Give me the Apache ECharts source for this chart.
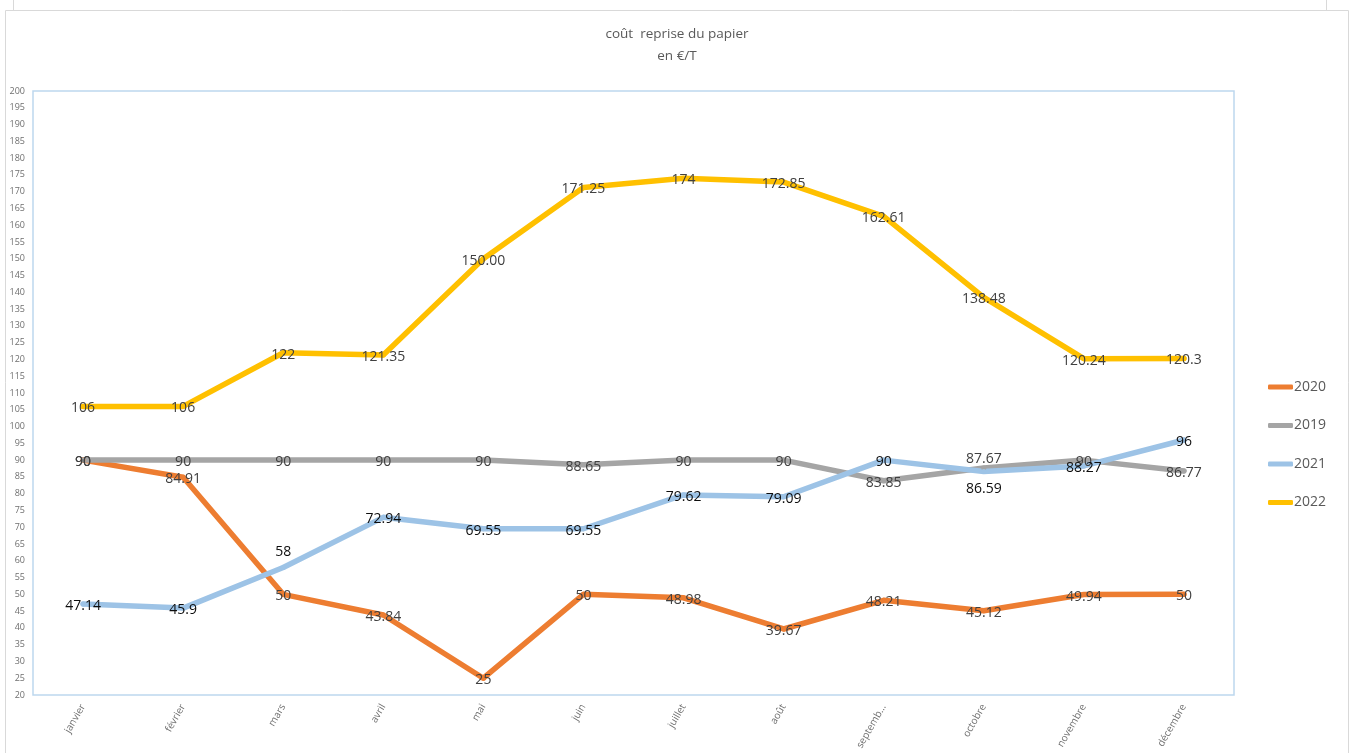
<!DOCTYPE html>
<html>
<head>
<meta charset="utf-8">
<script src="https://cdn.jsdelivr.net/npm/echarts@6/dist/echarts.min.js"></script>
<style>
html,body{margin:0;padding:0;background:#fff;}
#chart{width:1354px;height:753px;}
</style>
</head>
<body>
<div id="chart"></div>
<script>
// mois
const months = ['janvier','février','mars','avril','mai','juin','juillet','août','septemb...','octobre','novembre','décembre'];

// coût par année (€/T)
const v2020 = [90, 84.91, 50, 43.84, 25, 50, 48.98, 39.67, 48.21, 45.12, 49.94, 50];
const v2019 = [90, 90, 90, 90, 90, 88.65, 90, 90, 83.85, 87.67, 90, 86.77];
const v2021 = [47.14, 45.9, 58, 72.94, 69.55, 69.55, 79.62, 79.09, 90, 86.59, 88.27, 96];
const v2022 = [106, 106, 122, 121.35, 150, 171.25, 174, 172.85, 162.61, 138.48, 120.24, 120.3];

const yMin = 20, yMax = 200, yStep = 5;

const chart = echarts.init(document.getElementById('chart'));

// petits decalages d'etiquettes comme dans excel
const labelShift = {
    '2021': {2: -15, 9: 17},
    '2019': {9: -9}
};

function makeSeries(name, values, color, labelColor){
    const shifts = labelShift[name] || {};
    return {
        name: name,
        type: 'line',
        symbol: 'circle',
        symbolSize: 5,
        itemStyle: {color: color},
        lineStyle: {width: 5.5, color: color, cap: 'round', join: 'round'},
        emphasis: {disabled: true},
        label: {
            show: true,
            position: 'inside',
            offset: [0, 2],
            color: labelColor,
            fontSize: 14,
            fontFamily: 'Open Sans',
            formatter: p => (name === '2022' && p.value === 150) ? '150.00' : String(p.value)
        },
        data: values.map((v, i) => shifts[i] !== undefined
            ? {value: v, label: {offset: [0, shifts[i]]}}
            : v)
    };
}

let option = {
    animation: false,
    title: {
        text: 'coût  reprise du papier\nen €/T',
        left: 'center',
        top: 18,
        textStyle: {fontSize: 13.5, fontWeight: 'normal', color: '#595959', fontFamily: 'Open Sans', lineHeight: 22}
    },
    grid: {
        left: 33, right: 120, top: 91, bottom: 58,
        show: true, borderColor: '#bdd7ee', borderWidth: 1.5, backgroundColor: '#fff'
    },
    legend: {
        orient: 'vertical',
        left: 1263,
        top: 375,
        itemWidth: 25,
        itemHeight: 5,
        itemGap: 24.5,
        icon: 'roundRect',
        textStyle: {fontSize: 14, color: '#595959', fontFamily: 'Open Sans', padding: [0, 0, 0, -4]},
        data: ['2020', '2019', '2021', '2022']
    },
    xAxis: {
        type: 'category',
        data: months,
        boundaryGap: true,
        axisLine: {show: false},
        axisTick: {show: false},
        axisLabel: {rotate: 60, fontSize: 10, color: '#6f6f6f', margin: 10, interval: 0, fontFamily: 'Open Sans'}
    },
    yAxis: {
        type: 'value',
        min: yMin, max: yMax, interval: yStep,
        axisLine: {show: false},
        axisTick: {show: false},
        splitLine: {show: false},
        axisLabel: {fontSize: 9, color: '#6f6f6f', margin: 8, fontFamily: 'Open Sans'}
    },
    graphic: [
        {type: 'rect', shape: {x: 5.5, y: 10.5, width: 1343, height: 760}, style: {fill: 'none', stroke: '#d9d9d9', lineWidth: 1}, z: -1},
        {type: 'line', shape: {x1: 13.5, y1: 0, x2: 13.5, y2: 10}, style: {stroke: '#d9d9d9', lineWidth: 1}},
        {type: 'line', shape: {x1: 1326.5, y1: 0, x2: 1326.5, y2: 10}, style: {stroke: '#d9d9d9', lineWidth: 1}}
    ],
    series: [
        makeSeries('2020', v2020, '#ed7d31', '#404040'),
        makeSeries('2019', v2019, '#a5a5a5', '#404040'),
        makeSeries('2021', v2021, '#9dc3e6', '#0d0d0d'),
        makeSeries('2022', v2022, '#ffc000', '#404040')
    ]
};

chart.setOption(option);
</script>
</body>
</html>
